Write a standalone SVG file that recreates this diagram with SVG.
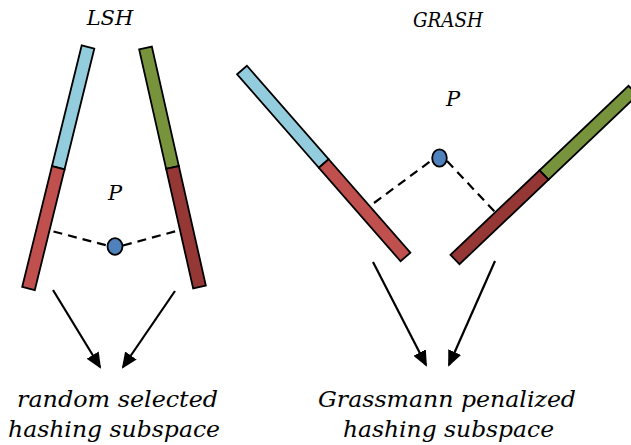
<svg xmlns="http://www.w3.org/2000/svg" width="631" height="445" viewBox="0 0 631 445">
<style>
  .bar { stroke: #000; stroke-width: 1.8; stroke-linejoin: miter; }
  .blue { fill: #93CDDD; }
  .red { fill: #C0504D; }
  .dred { fill: #953735; }
  .green { fill: #77933C; }
  .pt { fill: #4F81BD; stroke: #000; stroke-width: 1.8; }
  .dash { stroke: #000; stroke-width: 2.2; stroke-dasharray: 9 6; fill: none; }
  .arr { stroke: #000; stroke-width: 2.2; fill: none; marker-end: url(#ah); }
  text { font-family: "DejaVu Serif", "Liberation Serif", serif; font-style: italic; fill: #000; text-anchor: middle; }
  .lbl { font-size: 21px; }
  .big { font-size: 23px; }
</style>
<defs>
  <marker id="ah" viewBox="0 0 16 14" refX="14" refY="7" markerWidth="16" markerHeight="14" markerUnits="userSpaceOnUse" orient="auto">
    <path d="M0,0 L16,7 L0,14 Z" fill="#000"/>
  </marker>
</defs>

<g id="lsh-title"><text class="lbl" x="110" y="25">LSH</text></g>
<g id="grash-title"><text class="lbl" x="448" y="27" textLength="70" lengthAdjust="spacingAndGlyphs">GRASH</text></g>

<g id="lsh-bar-left">
  <polygon class="bar blue" points="94.31,48.56 81.69,45.45 51.94,166.2 64.56,169.3"/>
  <polygon class="bar red" points="64.56,169.3 51.94,166.2 22.19,286.95 34.81,290.06"/>
</g>
<g id="lsh-bar-right">
  <polygon class="bar green" points="139.16,49.43 151.84,46.57 178.84,166.07 166.16,168.93"/>
  <polygon class="bar dred" points="166.16,168.93 178.84,166.07 205.84,285.57 193.16,288.43"/>
</g>
<g id="lsh-point">
  <ellipse class="pt" cx="115" cy="246.5" rx="7.5" ry="8.3"/>
  <text class="lbl" x="115" y="200">P</text>
</g>

<g id="grash-bar-left">
  <polygon class="bar blue" points="237.11,74.28 246.89,65.72 328.64,159.22 318.86,167.78"/>
  <polygon class="bar red" points="318.86,167.78 328.64,159.22 410.39,252.72 400.61,261.28"/>
</g>
<g id="grash-bar-right">
  <polygon class="bar green" points="539.52,170.29 548.48,179.71 637.48,95.21 628.52,85.79"/>
  <polygon class="bar dred" points="450.52,254.79 459.48,264.21 548.48,179.71 539.52,170.29"/>
</g>
<g id="grash-point">
  <ellipse class="pt" cx="439.5" cy="158" rx="7.3" ry="8.7"/>
  <text class="lbl" x="453" y="106">P</text>
</g>

<g id="connectors">
  <line class="dash" x1="53.5" y1="231.5" x2="107" y2="245.5"/>
  <line class="dash" x1="123" y1="245.5" x2="180" y2="230"/>
  <line class="dash" x1="374" y1="203" x2="432" y2="160"/>
  <line class="dash" x1="447" y1="161" x2="495" y2="212"/>
  <line class="arr" x1="53" y1="290" x2="100" y2="367"/>
  <line class="arr" x1="175" y1="291" x2="123" y2="367"/>
  <line class="arr" x1="373" y1="262" x2="426" y2="365"/>
  <line class="arr" x1="495" y1="261" x2="449" y2="365"/>
</g>

<g id="label-lsh">
  <text class="big" x="117.5" y="407" textLength="201" lengthAdjust="spacingAndGlyphs">random selected</text>
  <text class="big" x="114" y="437" textLength="212" lengthAdjust="spacingAndGlyphs">hashing subspace</text>
</g>
<g id="label-grash">
  <text class="big" x="447" y="407" textLength="258" lengthAdjust="spacingAndGlyphs">Grassmann penalized</text>
  <text class="big" x="448.5" y="437" textLength="211" lengthAdjust="spacingAndGlyphs">hashing subspace</text>
</g>
</svg>
